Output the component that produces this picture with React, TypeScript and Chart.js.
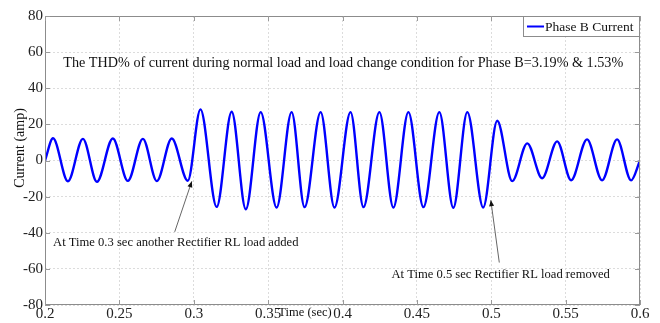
import React, { useEffect, useRef } from "react";
import { Chart, registerables } from "chart.js";

Chart.register(...registerables);

// ---- data (extrema of the waveform) ----
const timeSec = [
  0.2, 0.2054, 0.2154, 0.2255, 0.2349, 0.2456, 0.2557, 0.2658, 0.2752, 0.2852, 0.296,
  0.3045, 0.3154, 0.3255, 0.335, 0.345, 0.3557, 0.3658, 0.3745, 0.3853, 0.3946,
  0.4054, 0.4141, 0.4248, 0.4342, 0.4443, 0.4544, 0.4651, 0.4745, 0.4839, 0.4946,
  0.504, 0.5141, 0.5242, 0.5342, 0.5443, 0.5537, 0.5644, 0.5745, 0.5846, 0.594, 0.6,
];
const phaseBCurrent = [
  0, 12.3, -11.5, 12, -11.8, 12.2, -11.3, 12, -11.4, 12.2, -11.2,
  28.3, -25.7, 27, -27, 26.8, -26, 26.8, -25.8, 26.8, -26,
  26.8, -25.8, 26.8, -26, 26.8, -25.8, 26.8, -26.2, 26.8, -26,
  22, -11.4, 9.5, -9.8, 10.6, -10.9, 11.7, -11, 11.7, -11, 0,
];
const xTickValues = [0.2, 0.25, 0.3, 0.35, 0.4, 0.45, 0.5, 0.55, 0.6];
const xTickLabels = ["0.2", "0.25", "0.3", "0.35", "0.4", "0.45", "0.5", "0.55", "0.6"];
const yTickValues = [-80, -60, -40, -20, 0, 20, 40, 60, 80];
const yTickLabels = ["-80", "-60", "-40", "-20", "0", "20", "40", "60", "80"];

const seriesLabel = "Phase B Current";
const xAxisTitle = "Time (sec)";
const yAxisTitle = "Current (amp)";
const thdNote =
  "The THD% of current during normal load and load change condition for Phase B=3.19% & 1.53%";
const addedNote = "At Time 0.3 sec another Rectifier RL load added";
const removedNote = "At Time 0.5 sec Rectifier RL load removed";

const SERIF = "'Liberation Serif', 'DejaVu Serif', serif";
const BLUE = "#0000ff";

function arrow(ctx: CanvasRenderingContext2D, x1: number, y1: number, x2: number, y2: number) {
  ctx.save();
  ctx.strokeStyle = "#666";
  ctx.lineWidth = 1;
  ctx.beginPath();
  ctx.moveTo(x1, y1);
  ctx.lineTo(x2, y2);
  ctx.stroke();
  const ang = Math.atan2(y2 - y1, x2 - x1);
  const L = 6;
  const W = 2.5;
  ctx.fillStyle = "#111";
  ctx.beginPath();
  ctx.moveTo(x2, y2);
  ctx.lineTo(x2 - L * Math.cos(ang) + W * Math.sin(ang), y2 - L * Math.sin(ang) - W * Math.cos(ang));
  ctx.lineTo(x2 - L * Math.cos(ang) - W * Math.sin(ang), y2 - L * Math.sin(ang) + W * Math.cos(ang));
  ctx.closePath();
  ctx.fill();
  ctx.restore();
}

const decorPlugin = {
  id: "decor",
  afterDatasetsDraw(chart: any) {
    const { ctx, chartArea: a, scales } = chart;
    const xs = scales.x;
    const ys = scales.y;
    ctx.save();
    // box
    ctx.strokeStyle = "#8c8c8c";
    ctx.lineWidth = 1;
    ctx.strokeRect(a.left + 0.5, a.top + 0.5, a.right - a.left - 1, a.bottom - a.top - 1);
    // inward ticks
    ctx.strokeStyle = "#9a9a9a";
    ctx.beginPath();
    xTickValues.forEach((v) => {
      const px = Math.round(xs.getPixelForValue(v)) + 0.5;
      ctx.moveTo(px, a.bottom);
      ctx.lineTo(px, a.bottom - 5);
      ctx.moveTo(px, a.top);
      ctx.lineTo(px, a.top + 5);
    });
    yTickValues.forEach((v) => {
      const py = Math.round(ys.getPixelForValue(v)) + 0.5;
      ctx.moveTo(a.left, py);
      ctx.lineTo(a.left + 5, py);
      ctx.moveTo(a.right, py);
      ctx.lineTo(a.right - 5, py);
    });
    ctx.stroke();

    // texts
    ctx.fillStyle = "#111";
    ctx.textBaseline = "middle";
    ctx.textAlign = "center";
    ctx.font = `14.2px ${SERIF}`;
    ctx.fillText(thdNote, xs.getPixelForValue(0.4005), ys.getPixelForValue(53.6));

    ctx.textAlign = "left";
    ctx.font = `12.6px ${SERIF}`;
    ctx.fillText(addedNote, xs.getPixelForValue(0.2054), ys.getPixelForValue(-45.6));
    ctx.fillText(removedNote, xs.getPixelForValue(0.4329), ys.getPixelForValue(-63.3));

    arrow(ctx, xs.getPixelForValue(0.2872), ys.getPixelForValue(-39.5), xs.getPixelForValue(0.2987), ys.getPixelForValue(-11.5));
    arrow(ctx, xs.getPixelForValue(0.5054), ys.getPixelForValue(-56.5), xs.getPixelForValue(0.4997), ys.getPixelForValue(-22));

    // axis titles
    ctx.font = `12.5px ${SERIF}`;
    ctx.textAlign = "center";
    ctx.fillText(xAxisTitle, 305, 313);
    ctx.save();
    ctx.translate(20, 148);
    ctx.rotate(-Math.PI / 2);
    ctx.font = `14px ${SERIF}`;
    ctx.fillText(yAxisTitle, 0, 0);
    ctx.restore();

    // legend
    const lx = a.right - 117;
    const ly = a.top;
    const lw = 117;
    const lh = 21;
    ctx.fillStyle = "#fff";
    ctx.fillRect(lx, ly, lw, lh);
    ctx.strokeStyle = "#8c8c8c";
    ctx.strokeRect(lx + 0.5, ly + 0.5, lw - 1, lh - 1);
    ctx.strokeStyle = BLUE;
    ctx.lineWidth = 2;
    ctx.beginPath();
    ctx.moveTo(lx + 4, ly + 10.5);
    ctx.lineTo(lx + 21, ly + 10.5);
    ctx.stroke();
    ctx.fillStyle = "#111";
    ctx.textAlign = "left";
    ctx.font = `13.5px ${SERIF}`;
    ctx.fillText(seriesLabel, lx + 22, ly + 11);
    ctx.restore();
  },
};

export default function App() {
  const ref = useRef<HTMLCanvasElement | null>(null);
  useEffect(() => {
    document.body.style.margin = "0";
    const canvas = ref.current!;
    const chart = new Chart(canvas, {
      type: "line",
      data: {
        datasets: [
          {
            label: seriesLabel,
            data: timeSec.map((t, i) => ({ x: t, y: phaseBCurrent[i] })),
            borderColor: BLUE,
            borderWidth: 2.4,
            pointRadius: 0,
            cubicInterpolationMode: "monotone",
            fill: false,
          },
        ],
      },
      options: {
        responsive: false,
        animation: false,
        devicePixelRatio: 1,
        layout: { padding: { left: 0, top: 16, right: 20, bottom: 0 } },
        plugins: { legend: { display: false }, tooltip: { enabled: false } },
        scales: {
          x: {
            type: "linear",
            min: 0.2,
            max: 0.6,
            afterBuildTicks: (s: any) => {
              s.ticks = xTickValues.map((v) => ({ value: v }));
            },
            afterFit: (s: any) => {
              s.height = 18;
            },
            ticks: {
              padding: 0,
              color: "#222",
              font: { family: SERIF, size: 15 },
              maxRotation: 0,
              autoSkip: false,
              callback: (v: any) => {
                const i = xTickValues.findIndex((t) => Math.abs(t - v) < 1e-9);
                return i >= 0 ? xTickLabels[i] : "";
              },
            },
            grid: { color: "#dcdcdc", drawTicks: false, lineWidth: 1 },
            border: { display: false, dash: [2, 2] },
          },
          y: {
            type: "linear",
            min: -80,
            max: 80,
            afterBuildTicks: (s: any) => {
              s.ticks = yTickValues.map((v) => ({ value: v }));
            },
            afterFit: (s: any) => {
              s.width = 45;
            },
            ticks: {
              padding: 2,
              color: "#222",
              font: { family: SERIF, size: 15 },
              autoSkip: false,
              callback: (v: any) => {
                const i = yTickValues.findIndex((t) => Math.abs(t - v) < 1e-9);
                return i >= 0 ? yTickLabels[i] : "";
              },
            },
            grid: { color: "#dcdcdc", drawTicks: false, lineWidth: 1 },
            border: { display: false, dash: [2, 2] },
          },
        },
      },
      plugins: [decorPlugin],
    } as any);
    return () => chart.destroy();
  }, []);
  return (
    <div style={{ position: "fixed", left: 0, top: 0, width: 660, height: 323, background: "#fff" }}>
      <canvas ref={ref} width={660} height={323} />
    </div>
  );
}
